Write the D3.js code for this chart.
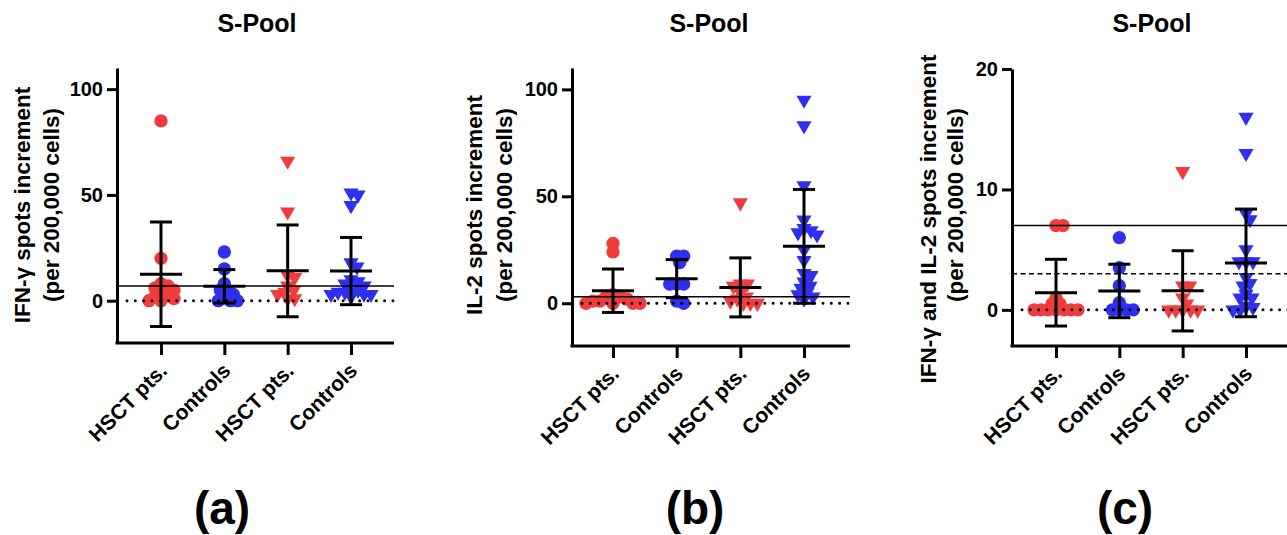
<!DOCTYPE html>
<html>
<head>
<meta charset="utf-8">
<title>S-Pool spots increment</title>
<script src="https://d3js.org/d3.v7.min.js"></script>
<style>
  body { margin: 0; background: #fff; }
  text { font-family: "Liberation Sans", Arial, sans-serif; font-weight: bold; fill: #000; }
</style>
</head>
<body>
<script>
// categories (first pair = circles, second pair = triangles)
var categories = ["HSCT pts.", "Controls", "HSCT pts.", "Controls"];
var catColors = ["#f03c3c", "#2f2ff0", "#f03c3c", "#2f2ff0"];
var catShapes = ["circle", "circle", "triangle", "triangle"];

// (a) IFN-γ spots increment
var ifnHsct1 = [85, 20, 8, 7, 6, 5, 4, 3, 2, 1, 0, 0];
var ifnCtrl1 = [23, 15, 8, 5, 5, 3, 2, 0, 0, 0];
var ifnHsct2 = [66, 42, 12, 11, 7, 5, 4, 3, 1, 1];
var ifnCtrl2 = [51, 50, 45, 18, 16, 10, 9, 8, 7, 6, 5, 4, 4, 3, 3, 3, 2];
var ifnMeans = [12.5, 6.8, 14.1, 14];
var ifnSds = [24.7, 7.9, 21.7, 15.9];

// (b) IL-2 spots increment
var il2Hsct1 = [28, 24, 4, 3, 3, 2, 1, 1, 0, 0, 0, 0];
var il2Ctrl1 = [22, 22, 19, 9, 9, 9, 1, 0];
var il2Hsct2 = [47, 9, 9, 8, 5, 3, 2, 1, 0, 0, 0];
var il2Ctrl2 = [95, 83, 55, 39, 35, 34, 33, 32, 25, 20, 14, 13, 10, 8, 7, 5, 4, 3, 2];
var il2Means = [5.85, 11.5, 7.4, 26.6];
var il2Sds = [10.15, 8.9, 13.8, 26.6];

// (c) IFN-γ and IL-2 spots increment
var dualHsct1 = [7, 7, 1, 0.5, 0.5, 0, 0, 0, 0, 0, 0, 0];
var dualCtrl1 = [6, 3.5, 2, 0.6, 0, 0, 0, 0];
var dualHsct2 = [11.5, 2, 2, 1, 0.5, 0, 0, 0, 0, 0];
var dualCtrl2 = [16, 13, 8, 7.5, 5, 4, 4, 4, 2.7, 2.2, 2, 1.3, 1, 1, 0.3, 0.2, 0, 0];
var dualMeans = [1.43, 1.57, 1.58, 3.9];
var dualSds = [2.77, 2.22, 3.33, 4.47];

// y ticks and reference lines
var ticksAB = [0, 50, 100];
var ticksC = [0, 10, 20];
var cutoffA = 7, cutoffB = 3, cutoffC = 7, cutoffCDashed = 3;

var W = 1287, H = 535;
var svg = d3.select("body").append("svg")
    .attr("width", W)
    .attr("height", H);

var panels = [
  { groups: [ifnHsct1, ifnCtrl1, ifnHsct2, ifnCtrl2], means: ifnMeans, sds: ifnSds,
    domain: [-20, 110], ticks: ticksAB, solid: cutoffA, dashed: null,
    left: 117, right: 394, top: 68, bottom: 343, cats: [161, 351],
    lines: ["IFN-\u03b3 spots increment", "(per 200,000 cells)"], lx: [22, 51], ly: [205, 205],
    titleX: 257, tag: "(a)", tagX: 222 },
  { groups: [il2Hsct1, il2Ctrl1, il2Hsct2, il2Ctrl2], means: il2Means, sds: il2Sds,
    domain: [-20, 110], ticks: ticksAB, solid: cutoffB, dashed: null,
    left: 572, right: 850, top: 68, bottom: 346, cats: [613, 804],
    lines: ["IL-2 spots increment", "(per 200,000 cells)"], lx: [474, 504], ly: [205, 205],
    titleX: 709, tag: "(b)", tagX: 695 },
  { groups: [dualHsct1, dualCtrl1, dualHsct2, dualCtrl2], means: dualMeans, sds: dualSds,
    domain: [-3, 20], ticks: ticksC, solid: cutoffC, dashed: cutoffCDashed,
    left: 1012, right: 1290, top: 69, bottom: 346, cats: [1056, 1246],
    lines: ["IFN-\u03b3 and  IL-2 spots increment", "(per 200,000 cells)"], lx: [928, 955], ly: [219, 205],
    titleX: 1152, tag: "(c)", tagX: 1125 }
];

// simple beeswarm: spread points that would overlap sideways
function swarm(values, y, minDist) {
  var placed = [];
  values.slice().sort(function(a, b) { return b - a; }).forEach(function(v) {
    var py = y(v), off = 0;
    for (var k = 0; k < 200; k++) {
      off = (k % 2 ? 1 : -1) * Math.ceil(k / 2);
      var ok = placed.every(function(p) {
        var dx = p.dx - off, dy = p.y - py;
        return dx * dx + dy * dy >= minDist * minDist;
      });
      if (ok) break;
    }
    placed.push({ v: v, y: py, dx: off });
  });
  return placed;
}

panels.forEach(function(p) {
  var g = svg.append("g");

  var y = d3.scaleLinear().domain(p.domain).range([p.bottom, p.top]);
  var x = d3.scalePoint().domain(d3.range(4)).range(p.cats);

  // title
  g.append("text")
    .attr("x", p.titleX).attr("y", 32)
    .attr("text-anchor", "middle")
    .style("font-size", "25px")
    .text("S-Pool");

  // y axis
  var yAxis = g.append("g")
    .attr("transform", "translate(" + p.left + ",0)")
    .call(d3.axisLeft(y).tickValues(p.ticks).tickSize(10).tickSizeOuter(0).tickPadding(4));
  yAxis.select(".domain").attr("stroke", "#000").attr("stroke-width", 3);
  yAxis.selectAll(".tick line").attr("stroke", "#000").attr("stroke-width", 3);
  yAxis.selectAll(".tick text")
    .style("font-size", "20px")
    .style("font-family", "'Liberation Sans', Arial, sans-serif")
    .style("font-weight", "bold")
    .attr("fill", "#000");

  // x axis
  g.append("line")
    .attr("x1", p.left - 1.5).attr("x2", p.right)
    .attr("y1", p.bottom).attr("y2", p.bottom)
    .attr("stroke", "#000").attr("stroke-width", 3);
  var xAxis = g.append("g")
    .attr("transform", "translate(0," + p.bottom + ")")
    .call(d3.axisBottom(x).tickSize(12).tickSizeOuter(0).tickFormat(function(i) { return categories[i]; }));
  xAxis.select(".domain").remove();
  xAxis.selectAll(".tick line").attr("stroke", "#000").attr("stroke-width", 3);
  xAxis.selectAll(".tick text")
    .style("font-size", "21px")
    .style("font-family", "'Liberation Sans', Arial, sans-serif")
    .style("font-weight", "bold")
    .attr("fill", "#000")
    .attr("text-anchor", "end")
    .attr("y", 0).attr("dy", 0)
    .attr("transform", "translate(7,29) rotate(-45)");

  // y label
  p.lines.forEach(function(t, i) {
    g.append("text")
      .attr("transform", "translate(" + p.lx[i] + "," + p.ly[i] + ") rotate(-90)")
      .attr("text-anchor", "middle")
      .attr("dy", "0.35em")
      .style("font-size", "22.5px")
      .text(t);
  });

  // points
  p.groups.forEach(function(vals, gi) {
    var pts = swarm(vals, y, 7);
    var sym = catShapes[gi] === "circle"
      ? d3.symbol(d3.symbolCircle, 140)
      : d3.symbol(d3.symbolTriangle, 100);
    g.selectAll(null)
      .data(pts)
      .enter()
      .append("path")
      .attr("d", sym)
      .attr("transform", function(d) {
        return "translate(" + (x(gi) + d.dx) + "," + d.y + ")" + (catShapes[gi] === "triangle" ? " rotate(180)" : "");
      })
      .attr("fill", catColors[gi]);
  });

  // reference lines
  g.append("line")
    .attr("x1", p.left).attr("x2", p.right)
    .attr("y1", y(p.solid)).attr("y2", y(p.solid))
    .attr("stroke", "#000").attr("stroke-width", 1.5);
  if (p.dashed !== null) {
    g.append("line")
      .attr("x1", p.left).attr("x2", p.right)
      .attr("y1", y(p.dashed)).attr("y2", y(p.dashed))
      .attr("stroke", "#000").attr("stroke-width", 1.6)
      .attr("stroke-dasharray", "5 3.5");
  }
  g.append("line")
    .attr("x1", p.left + 10).attr("x2", p.right)
    .attr("y1", y(0)).attr("y2", y(0))
    .attr("stroke", "#000").attr("stroke-width", 3)
    .attr("stroke-linecap", "round")
    .attr("stroke-dasharray", "0.01 8.3");

  // mean and SD bars
  p.means.forEach(function(m, gi) {
    var cx = x(gi), sd = p.sds[gi];
    var bar = g.append("g").attr("stroke", "#000").attr("stroke-width", 3);
    bar.append("line").attr("x1", cx).attr("x2", cx).attr("y1", y(m + sd)).attr("y2", y(m - sd));
    bar.append("line").attr("x1", cx - 11).attr("x2", cx + 11).attr("y1", y(m + sd)).attr("y2", y(m + sd));
    bar.append("line").attr("x1", cx - 11).attr("x2", cx + 11).attr("y1", y(m - sd)).attr("y2", y(m - sd));
    bar.append("line").attr("x1", cx - 21).attr("x2", cx + 21).attr("y1", y(m)).attr("y2", y(m));
  });

  // panel tag
  svg.append("text")
    .attr("x", p.tagX).attr("y", 524)
    .attr("text-anchor", "middle")
    .style("font-size", "46px")
    .text(p.tag);
});
</script>
</body>
</html>
